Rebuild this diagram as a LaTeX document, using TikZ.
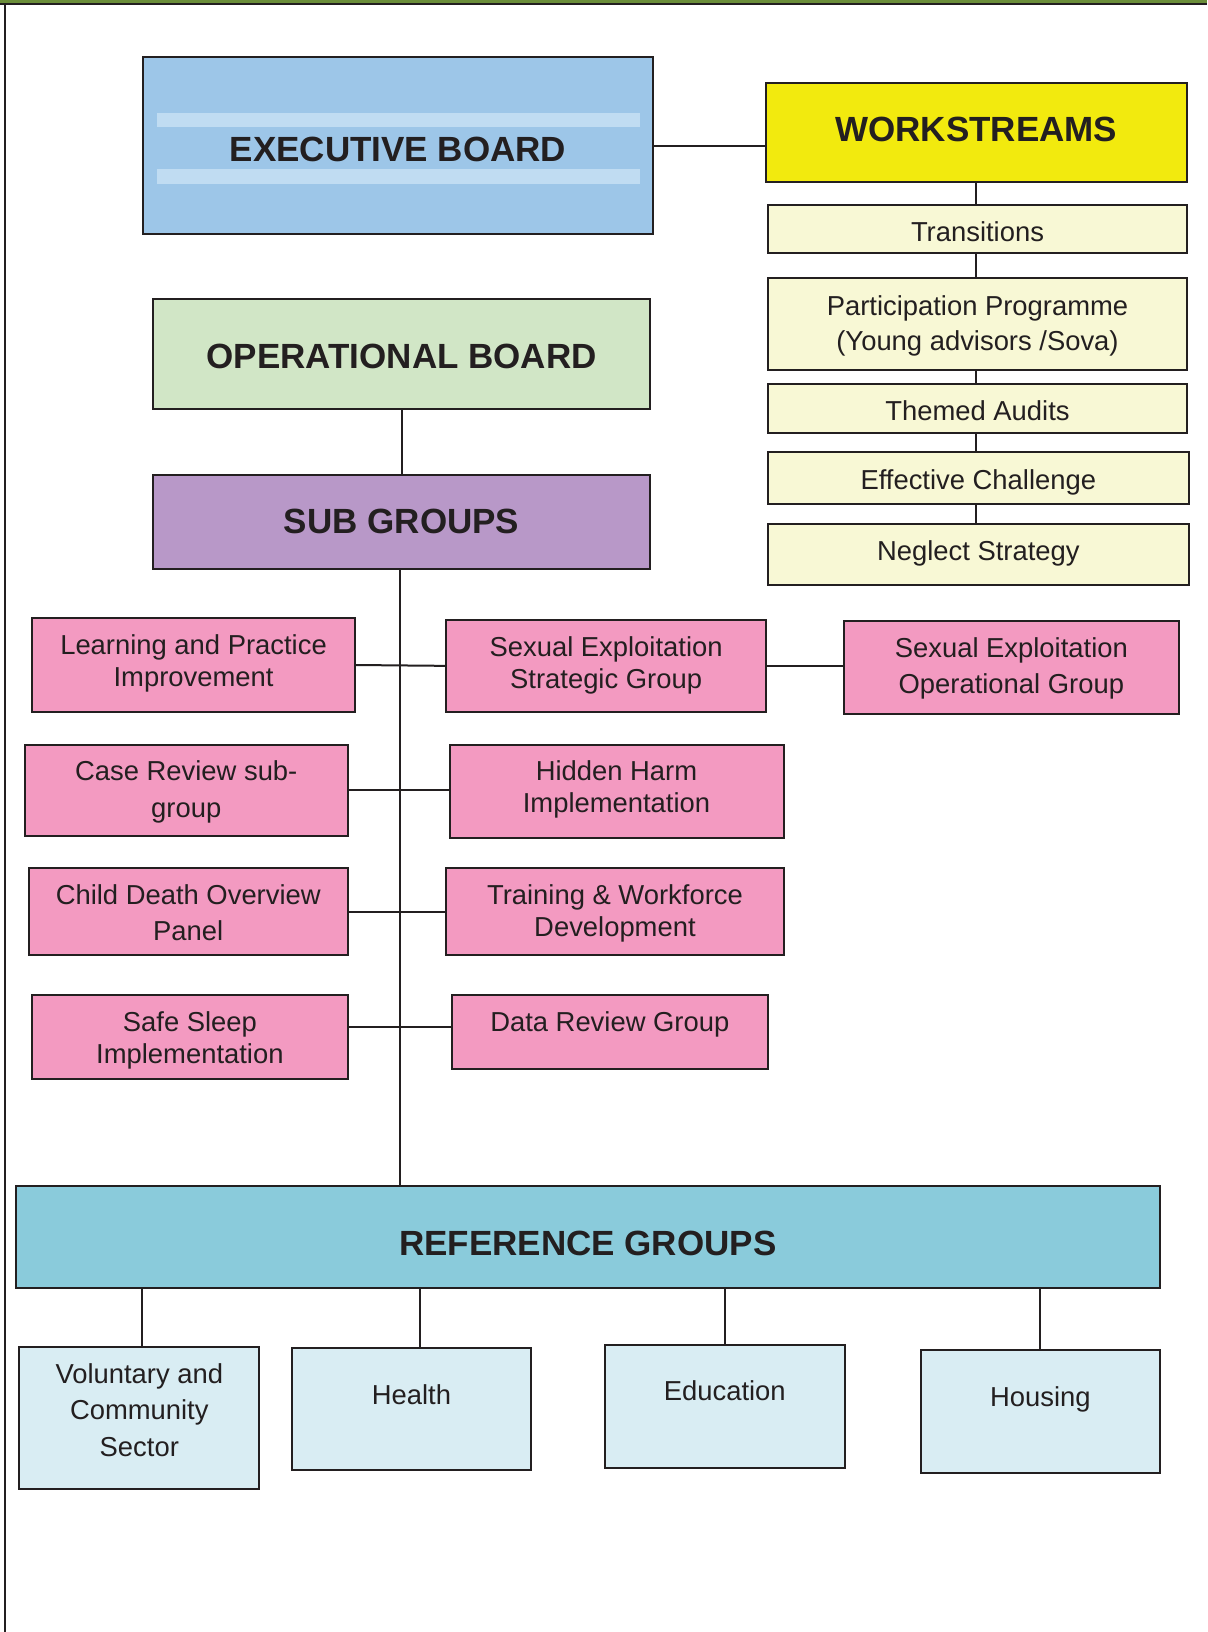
\documentclass[tikz,border=0pt]{standalone}
\usepackage{fontspec}
\setmainfont{Liberation Sans}
\definecolor{ln}{HTML}{231F20}
\definecolor{execfill}{HTML}{9DC6E8}
\definecolor{execstripe}{HTML}{C0DCF2}
\definecolor{wsyellow}{HTML}{F2EA0E}
\definecolor{wsitem}{HTML}{F8F8D5}
\definecolor{opgreen}{HTML}{D1E6C6}
\definecolor{subpurple}{HTML}{B898C8}
\definecolor{pinkfill}{HTML}{F39AC1}
\definecolor{reffill}{HTML}{8ACBDB}
\definecolor{refchild}{HTML}{D9EDF3}
\definecolor{topgreen}{HTML}{6B8E3A}
\tikzset{
  box/.style={draw=ln, line width=1pt, inner sep=0pt, rectangle},
  pinkbox/.style={box, fill=pinkfill},
  wsbox/.style={box, fill=wsitem},
  rcbox/.style={box, fill=refchild},
  txt/.style={anchor=base, align=center, inner sep=0pt, text=ln, font=\fontsize{13.7}{16}\selectfont},
  txtwide/.style={txt, font=\fontsize{13.7}{18}\selectfont},
  ttl/.style={anchor=base, inner sep=0pt, text=ln, font=\fontsize{17.5}{20}\selectfont\bfseries},
  conn/.style={draw=ln, line width=1pt},
}
\begin{document}
\begin{tikzpicture}[x=0.5pt,y=-0.5pt]
\useasboundingbox (0,0) rectangle (1207,1632);
% frame
\fill[topgreen] (0,0) rectangle (1207,2.6);
\draw[ln, line width=1pt] (0,3.6) -- (1207,3.6);
\draw[ln, line width=1pt] (5,3.6) -- (5,1632);

% executive board
\node[box, fill=execfill, minimum width=255.4pt, minimum height=88.45pt] (exec) at (398,145.6) {};
\fill[execstripe] (157,113) rectangle (640,127.5);
\fill[execstripe] (157,169) rectangle (640,183.5);
\node[ttl] (exect) at (398,161.5) {EXECUTIVE BOARD};

% workstreams
\node[box, fill=wsyellow, minimum width=210.35pt, minimum height=49pt] (work) at (976.2,132.5) {};
\node[ttl] (workt) at (976.2,141.5) {WORKSTREAMS};
\node[wsbox, minimum width=209.8pt, minimum height=24.25pt] (trans) at (977.5,228.75) {};
\node[txt] (transt) at (977.5,241.5) {Transitions};
\node[wsbox, minimum width=209.8pt, minimum height=46.1pt] (part) at (977.5,323.9) {};
\node[txt, font=\fontsize{13.7}{17.75}\selectfont] (partt) at (977.5,350.8) {Participation Programme\\(Young advisors /Sova)};
\node[wsbox, minimum width=209.8pt, minimum height=24.7pt] (aud) at (977.5,408.7) {};
\node[txt] (audt) at (977.5,420.4) {Themed Audits};
\node[wsbox, minimum width=210.65pt, minimum height=25.85pt] (eff) at (978.3,477.85) {};
\node[txt] (efft) at (978.3,489.2) {Effective Challenge};
\node[wsbox, minimum width=210.65pt, minimum height=30.35pt] (neg) at (978.3,554.35) {};
\node[txt] (negt) at (978.3,560.6) {Neglect Strategy};

\draw[conn] (exec.east) -- (exec.east -| work.west);
\draw[conn] (work.south) -- (work.south |- trans.north);
\draw[conn] (work.south |- trans.south) -- (work.south |- part.north);
\draw[conn] (work.south |- part.south) -- (work.south |- aud.north);
\draw[conn] (work.south |- aud.south) -- (work.south |- eff.north);
\draw[conn] (work.south |- eff.south) -- (work.south |- neg.north);

% operational board and sub groups
\node[box, fill=opgreen, minimum width=248.65pt, minimum height=55.2pt] (op) at (401.65,353.8) {};
\node[ttl] (opt) at (401.65,368) {OPERATIONAL BOARD};
\node[box, fill=subpurple, minimum width=248.65pt, minimum height=47.35pt] (sub) at (401.65,521.85) {};
\node[ttl] (subt) at (401.65,533.8) {SUB GROUPS};
\draw[conn] (op.south) -- (sub.north);

% pink groups
\node[pinkbox, minimum width=161.25pt, minimum height=47pt] (lpi) at (193.55,665) {};
\node[txt] (lpit) at (193.55,686) {Learning and Practice\\Improvement};
\node[pinkbox, minimum width=159.7pt, minimum height=45.85pt] (ses) at (606.1,665.85) {};
\node[txt] (sest) at (606.1,688) {Sexual Exploitation\\Strategic Group};
\node[pinkbox, minimum width=167.55pt, minimum height=46.4pt] (seo) at (1011.35,667.4) {};
\node[txt, font=\fontsize{13.7}{18.3}\selectfont] (seot) at (1011.35,693.6) {Sexual Exploitation\\Operational Group};
\node[pinkbox, minimum width=161.25pt, minimum height=45.25pt] (cr) at (186.25,790.25) {};
\node[txt, font=\fontsize{13.7}{18.5}\selectfont] (crt) at (186.25,817) {Case Review sub-\\group};
\node[pinkbox, minimum width=167pt, minimum height=46.3pt] (hh) at (616.5,791.3) {};
\node[txt] (hht) at (616.5,812) {Hidden Harm\\Implementation};
\node[pinkbox, minimum width=159.25pt, minimum height=43.7pt] (cd) at (188.25,911.5) {};
\node[txtwide] (cdt) at (188.25,940) {Child Death Overview\\Panel};
\node[pinkbox, minimum width=168.55pt, minimum height=43.7pt] (tw) at (614.95,911.5) {};
\node[txt] (twt) at (614.95,936) {Training \& Workforce\\Development};
\node[pinkbox, minimum width=157.6pt, minimum height=42.15pt] (ss) at (189.9,1036.85) {};
\node[txt] (sst) at (189.9,1063) {Safe Sleep\\Implementation};
\node[pinkbox, minimum width=158.2pt, minimum height=36.95pt] (dr) at (609.8,1031.65) {};
\node[txt] (drt) at (609.8,1031) {Data Review Group};

% reference groups
\node[box, fill=reffill, minimum width=572.2pt, minimum height=50.75pt] (ref) at (587.8,1236.75) {};
\node[ttl] (reft) at (587.8,1255) {REFERENCE GROUPS};
\node[rcbox, minimum width=120.1pt, minimum height=71pt] (vol) at (139.3,1418.3) {};
\node[txt, font=\fontsize{13.7}{18.2}\selectfont] (volt) at (139.3,1456) {Voluntary and\\Community\\Sector};
\node[rcbox, minimum width=119.7pt, minimum height=61.3pt] (hea) at (411.5,1409) {};
\node[txt] (heat) at (411.5,1404) {Health};
\node[rcbox, minimum width=119.75pt, minimum height=61.35pt] (edu) at (724.75,1406.35) {};
\node[txt] (edut) at (724.75,1400.7) {Education};
\node[rcbox, minimum width=119.65pt, minimum height=61.35pt] (hou) at (1040.35,1411.35) {};
\node[txt] (hout) at (1040.35,1406.7) {Housing};

% trunk and branches
\coordinate (trunk) at ([xshift=-1pt]sub.south);
\draw[conn] (trunk) -- (trunk |- ref.north);
\draw[conn] (lpi.east) -- (ses.west);
\draw[conn] (ses.east) -- (ses.east -| seo.west);
\draw[conn] (cr.east) -- (cr.east -| hh.west);
\draw[conn] (cd.east) -- (tw.west);
\draw[conn] ([yshift=4.9pt]ss.east) -- ([yshift=4.9pt]ss.east -| dr.west);

\draw[conn] ([xshift=1.5pt]vol.north |- ref.south) -- ([xshift=1.5pt]vol.north);
\draw[conn] ([xshift=4pt]hea.north |- ref.south) -- ([xshift=4pt]hea.north);
\draw[conn] (edu.north |- ref.south) -- (edu.north);
\draw[conn] (hou.north |- ref.south) -- (hou.north);
\end{tikzpicture}
\end{document}
